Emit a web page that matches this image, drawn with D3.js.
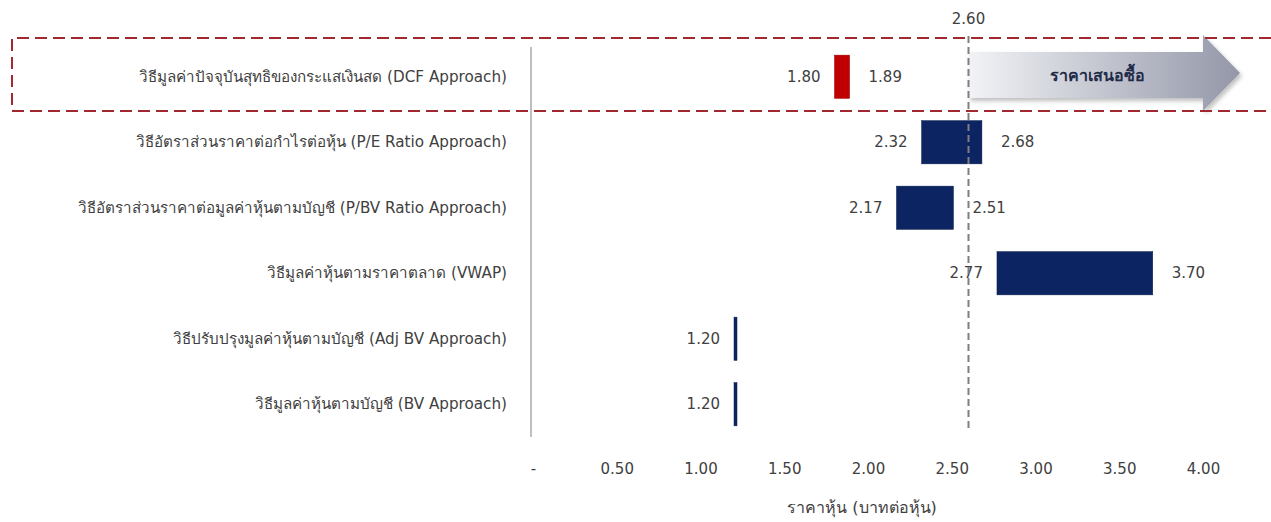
<!DOCTYPE html>
<html><head><meta charset="utf-8">
<script src="https://cdn.jsdelivr.net/npm/d3@7"></script>
<style>
html,body{margin:0;padding:0;background:#fff;}
svg{display:block;font-family:"DejaVu Sans","Noto Sans",sans-serif;}
</style></head>
<body>
<svg id="c" width="1271" height="522"></svg>
<script>
const categories = [
  "วิธีมูลค่าปัจจุบันสุทธิของกระแสเงินสด (DCF Approach)",
  "วิธีอัตราส่วนราคาต่อกำไรต่อหุ้น (P/E Ratio Approach)",
  "วิธีอัตราส่วนราคาต่อมูลค่าหุ้นตามบัญชี (P/BV Ratio Approach)",
  "วิธีมูลค่าหุ้นตามราคาตลาด (VWAP)",
  "วิธีปรับปรุงมูลค่าหุ้นตามบัญชี (Adj BV Approach)",
  "วิธีมูลค่าหุ้นตามบัญชี (BV Approach)"
];
const lowValues  = [1.80, 2.32, 2.17, 2.77, 1.20, 1.20];
const highValues = [1.89, 2.68, 2.51, 3.70, 1.20, 1.20];
const highlighted = [true, false, false, false, false, false];
const tickValues = [0, 0.5, 1, 1.5, 2, 2.5, 3, 3.5, 4];
const tickLabels = ["-", "0.50", "1.00", "1.50", "2.00", "2.50", "3.00", "3.50", "4.00"];
const offerPrice = 2.60;
const offerLabel = "ราคาเสนอซื้อ";
const xTitle = "ราคาหุ้น (บาทต่อหุ้น)";

const svg = d3.select("#c");
const x = d3.scaleLinear().domain([0, 4]).range([533, 1203]);
const y = d3.scaleBand().domain(categories).range([44, 437]).paddingInner(0.34).paddingOuter(0.17);
const textCol = "#404040";

const defs = svg.append("defs");
const g = defs.append("linearGradient").attr("id","ag").attr("x1","0").attr("x2","1").attr("y1","0").attr("y2","0");
g.append("stop").attr("offset","0%").attr("stop-color","#f2f3f6");
g.append("stop").attr("offset","100%").attr("stop-color","#9397a8");
const f = defs.append("filter").attr("id","sh").attr("x","-10%").attr("y","-20%").attr("width","130%").attr("height","150%");
f.append("feDropShadow").attr("dx",2).attr("dy",3).attr("stdDeviation",2).attr("flood-color","#000").attr("flood-opacity",0.25);

// arrow annotation
const ax0 = x(offerPrice);
const tipX = 1240, headX = 1203;
svg.append("path")
  .attr("d", `M${ax0},52 L${headX},52 L${headX},35 L${tipX},73 L${headX},111 L${headX},98 L${ax0},98 Z`)
  .attr("fill","url(#ag)").attr("filter","url(#sh)");
svg.append("text").attr("x", 1097).attr("y", 81)
  .attr("text-anchor","middle").attr("font-size",16).attr("font-weight","bold")
  .attr("fill","#1f2a48").text(offerLabel);

// dashed red highlight box
svg.append("path")
  .attr("d", `M1271,38 L12,38 L12,111 L1271,111`)
  .attr("fill","none").attr("stroke","#a0282e").attr("stroke-width",2)
  .attr("stroke-dasharray","12,6");

// y axis line
svg.append("line").attr("x1", x(0)-2).attr("x2", x(0)-2).attr("y1", 47).attr("y2", 437)
  .attr("stroke","#bfbfbf").attr("stroke-width",2);

// category labels
svg.append("g").selectAll("text").data(categories).join("text")
  .attr("x", 507).attr("y", d => y(d) + y.bandwidth()/2 + 5)
  .attr("text-anchor","end").attr("font-size",15.2).attr("fill",textCol).text(d => d);

// bars
const rows = categories.map((c,i)=>({c, lo: lowValues[i], hi: highValues[i], hl: highlighted[i]}));
svg.append("g").selectAll("rect").data(rows).join("rect")
  .attr("x", d => x(d.lo))
  .attr("y", d => y(d.c))
  .attr("width", d => Math.max(3, x(d.hi) - x(d.lo)))
  .attr("height", y.bandwidth())
  .attr("fill", d => d.hl ? "#c00000" : "#0c2461")
  .attr("stroke", d => d.hl ? "#9a0000" : "#0a1d4f").attr("stroke-width", 0.5);

// value labels
const lab = svg.append("g").attr("font-size",15).attr("fill",textCol);
lab.selectAll("text.lo").data(rows).join("text").attr("class","lo")
  .attr("x", d => x(d.lo) - 14).attr("y", d => y(d.c) + y.bandwidth()/2 + 5)
  .attr("text-anchor","end").text(d => d.lo.toFixed(2));
lab.selectAll("text.hi").data(rows.filter(d => d.hi !== d.lo)).join("text").attr("class","hi")
  .attr("x", d => x(d.hi) + 19).attr("y", d => y(d.c) + y.bandwidth()/2 + 5)
  .attr("text-anchor","start").text(d => d.hi.toFixed(2));

// offer price dashed line
svg.append("line").attr("x1", ax0).attr("x2", ax0).attr("y1", 36).attr("y2", 430)
  .attr("stroke","#7f7f7f").attr("stroke-width",2).attr("stroke-dasharray","7,4");
svg.append("text").attr("x", ax0).attr("y", 24).attr("text-anchor","middle")
  .attr("font-size",15).attr("fill",textCol).text(offerPrice.toFixed(2));

// x axis
const xa = d3.axisBottom(x).tickValues(tickValues).tickFormat((d,i)=>tickLabels[i]).tickSize(0).tickPadding(0);
const axg = svg.append("g").attr("transform","translate(0,463)").call(xa);
axg.select(".domain").remove();
axg.selectAll("text").attr("font-size",15).attr("fill",textCol)
  .attr("font-family","'DejaVu Sans', sans-serif").attr("dy","0.71em");

svg.append("text").attr("x", 862).attr("y", 513).attr("text-anchor","middle")
  .attr("font-size",16).attr("fill",textCol).text(xTitle);
</script>
</body></html>
